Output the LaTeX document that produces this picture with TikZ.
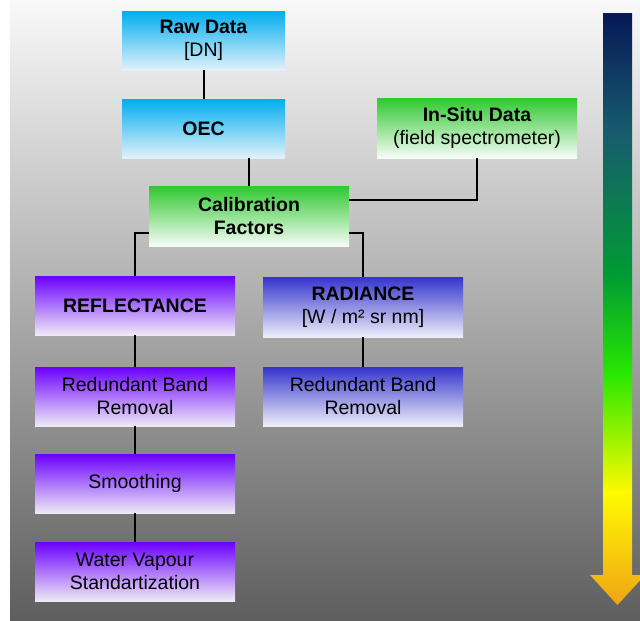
\documentclass[tikz,border=0pt]{standalone}
\usepackage{fontspec}
\setmainfont{Liberation Sans}
\usetikzlibrary{shadings}

% panel and box colours
\definecolor{bgTop}{RGB}{249,249,249}
\definecolor{bgBot}{RGB}{94,94,94}
\definecolor{cyanTop}{RGB}{0,174,240}
\definecolor{cyanBot}{RGB}{226,241,249}
\definecolor{greenTop}{RGB}{48,200,48}
\definecolor{greenBot}{RGB}{246,252,246}
\definecolor{purpleTop}{RGB}{108,0,255}
\definecolor{purpleBot}{RGB}{238,234,246}
\definecolor{blueTop}{RGB}{52,52,206}
\definecolor{blueBot}{RGB}{238,238,249}

% colours of the long processing arrow
\definecolor{arrNavy}{RGB}{6,24,86}
\definecolor{arrTeal}{RGB}{24,92,110}
\definecolor{arrGreen}{RGB}{0,154,52}
\definecolor{arrLime}{RGB}{40,232,0}
\definecolor{arrYellow}{RGB}{255,250,0}
\definecolor{arrOrange}{RGB}{240,164,22}

% the path's bounding box is mapped onto 25bp..75bp of the shading
\pgfdeclareverticalshading{flowarrow}{100bp}{%
  color(0bp)=(arrOrange); color(25bp)=(arrOrange); color(34.5bp)=(arrYellow);
  color(44.5bp)=(arrLime); color(53bp)=(arrGreen); color(65bp)=(arrTeal);
  color(75bp)=(arrNavy); color(100bp)=(arrNavy)}

\tikzset{
  box/.style={minimum width=200pt, minimum height=60pt, inner sep=0pt,
    align=center, text=black, font=\fontsize{19.5}{23}\selectfont},
  cyanbox/.style={box, minimum width=163pt, minimum height=59pt,
    top color=cyanTop, bottom color=cyanBot},
  greenbox/.style={box, top color=greenTop, bottom color=greenBot},
  purplebox/.style={box, minimum height=59pt, top color=purpleTop, bottom color=purpleBot},
  bluebox/.style={box, top color=blueTop, bottom color=blueBot},
  link/.style={draw=black, line width=2pt}
}

\begin{document}
\begin{tikzpicture}[x=1pt, y=-1pt]
  \useasboundingbox (0,0) rectangle (640,621);
  % grey backdrop panel
  \shade[top color=bgTop, bottom color=bgBot] (10,0) rectangle (640,621);

  % processing direction arrow
  \shade[shading=flowarrow]
    (603,13) -- (632,13) -- (632,575) -- (645,575) -- (617.5,605)
    -- (590,575) -- (603,575) -- cycle;

  % boxes
  \node[cyanbox] (raw) at (203.5,40.5) {\textbf{Raw Data}\\{[DN]}};
  \node[cyanbox] (oec) at (203.5,128.5) {\textbf{OEC}};
  \node[greenbox] (insitu) at (477,128) {\textbf{In-Situ Data}\\(field spectrometer)};
  \node[greenbox] (calib) at (249,216) {\textbf{Calibration}\\\textbf{Factors}};
  \node[purplebox] (refl) at (135,305.5) {\textbf{REFLECTANCE}};
  \node[bluebox] (rad) at (363,307) {\textbf{RADIANCE}\\{[W / m² sr nm]}};
  \node[purplebox] (redl) at (135,396.5) {Redundant Band\\Removal};
  \node[bluebox, minimum height=59pt] (redr) at (363,396.5) {Redundant Band\\Removal};
  \node[purplebox] (smooth) at (135,483.5) {Smoothing};
  \node[purplebox] (water) at (135,571.5) {Water Vapour\\Standartization};

  % connectors
  \draw[link] (raw.south) -- (oec.north);
  \draw[link] (calib.north) -- (calib.north |- oec.south);
  \draw[link] (insitu.south) |- ([yshift=16pt]calib.east);
  \draw[link] ([yshift=-17pt]calib.west) -| (refl.north);
  \draw[link] ([yshift=-17pt]calib.east) -| (rad.north);
  \draw[link] (refl.south) -- (redl.north);
  \draw[link] (redl.south) -- (smooth.north);
  \draw[link] (smooth.south) -- (water.north);
  \draw[link] (rad.south) -- (redr.north);
\end{tikzpicture}
\end{document}
